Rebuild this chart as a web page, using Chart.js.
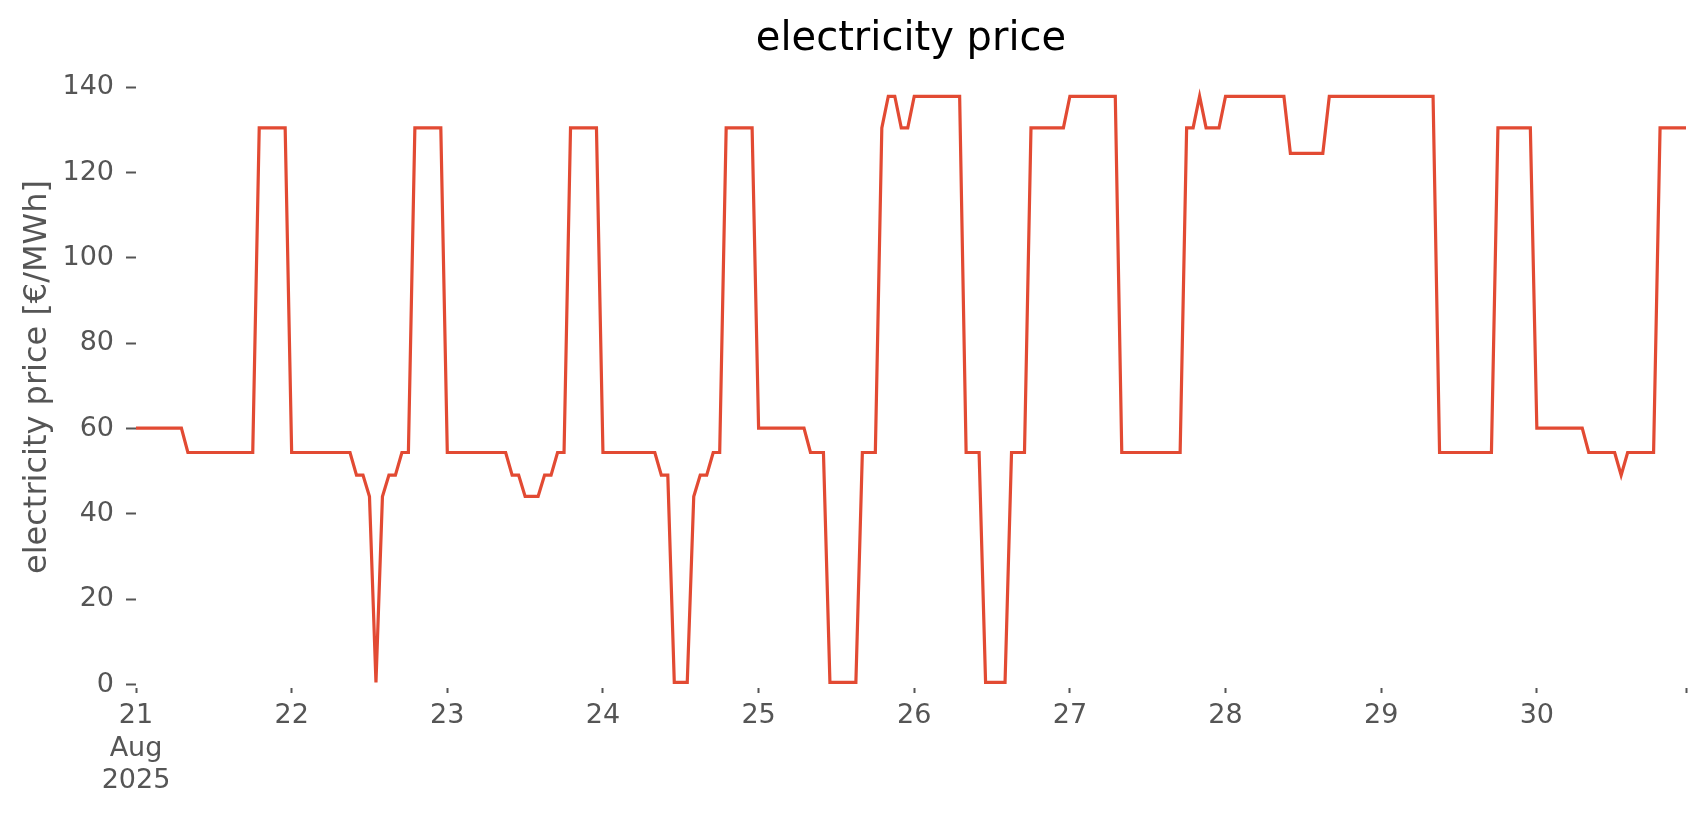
<!DOCTYPE html>
<html>

<head>
  <title>electricity price</title>
  <style>
    body {
      margin: 0;
      background-color: white;
    }
  </style>
  <script src="https://cdn.jsdelivr.net/npm/chart.js"></script>
</head>

<body>
  <canvas id="priceChart" width="1706" height="815"></canvas>

  <script>
    // hourly prices in EUR/MWh, one array per day (21-30 Aug 2025)
    const aug21 = [60.1, 60.1, 60.1, 60.1, 60.1, 60.1, 60.1, 60.1, 54.4, 54.4, 54.4, 54.4, 54.4, 54.4, 54.4, 54.4, 54.4, 54.4, 54.4, 130.5, 130.5, 130.5, 130.5, 130.5];
    const aug22 = [54.4, 54.4, 54.4, 54.4, 54.4, 54.4, 54.4, 54.4, 54.4, 54.4, 49.1, 49.1, 44.1, 0.5, 44.1, 49.1, 49.1, 54.4, 54.4, 130.5, 130.5, 130.5, 130.5, 130.5];
    const aug23 = [54.4, 54.4, 54.4, 54.4, 54.4, 54.4, 54.4, 54.4, 54.4, 54.4, 49.1, 49.1, 44.1, 44.1, 44.1, 49.1, 49.1, 54.4, 54.4, 130.5, 130.5, 130.5, 130.5, 130.5];
    const aug24 = [54.4, 54.4, 54.4, 54.4, 54.4, 54.4, 54.4, 54.4, 54.4, 49.1, 49.1, 0.5, 0.5, 0.5, 44.1, 49.1, 49.1, 54.4, 54.4, 130.5, 130.5, 130.5, 130.5, 130.5];
    const aug25 = [60.1, 60.1, 60.1, 60.1, 60.1, 60.1, 60.1, 60.1, 54.4, 54.4, 54.4, 0.5, 0.5, 0.5, 0.5, 0.5, 54.4, 54.4, 54.4, 130.5, 137.9, 137.9, 130.5, 130.5];
    const aug26 = [137.9, 137.9, 137.9, 137.9, 137.9, 137.9, 137.9, 137.9, 54.4, 54.4, 54.4, 0.5, 0.5, 0.5, 0.5, 54.4, 54.4, 54.4, 130.5, 130.5, 130.5, 130.5, 130.5, 130.5];
    const aug27 = [137.9, 137.9, 137.9, 137.9, 137.9, 137.9, 137.9, 137.9, 54.4, 54.4, 54.4, 54.4, 54.4, 54.4, 54.4, 54.4, 54.4, 54.4, 130.5, 130.5, 137.9, 130.5, 130.5, 130.5];
    const aug28 = [137.9, 137.9, 137.9, 137.9, 137.9, 137.9, 137.9, 137.9, 137.9, 137.9, 124.5, 124.5, 124.5, 124.5, 124.5, 124.5, 137.9, 137.9, 137.9, 137.9, 137.9, 137.9, 137.9, 137.9];
    const aug29 = [137.9, 137.9, 137.9, 137.9, 137.9, 137.9, 137.9, 137.9, 137.9, 54.4, 54.4, 54.4, 54.4, 54.4, 54.4, 54.4, 54.4, 54.4, 130.5, 130.5, 130.5, 130.5, 130.5, 130.5];
    const aug30 = [60.1, 60.1, 60.1, 60.1, 60.1, 60.1, 60.1, 60.1, 54.4, 54.4, 54.4, 54.4, 54.4, 49.1, 54.4, 54.4, 54.4, 54.4, 54.4, 130.5, 130.5, 130.5, 130.5, 130.5];

    // x axis in hours since 21 Aug 2025 00:00
    const dayTicks = [0, 24, 48, 72, 96, 120, 144, 168, 192, 216, 239];
    const dayLabels = [['21', 'Aug', '2025'], '22', '23', '24', '25', '26', '27', '28', '29', '30', ''];
    const yTicks = [0, 20, 40, 60, 80, 100, 120, 140];

    const hourly = [].concat(aug21, aug22, aug23, aug24, aug25, aug26, aug27, aug28, aug29, aug30);
    const points = hourly.map((v, i) => ({ x: i, y: v }));

    const tickColor = '#555555';
    const fontFamily = "'DejaVu Sans', sans-serif";

    new Chart(document.getElementById('priceChart').getContext('2d'), {
      type: 'line',
      data: {
        datasets: [{
          label: 'electricity price',
          data: points,
          borderColor: '#E24A33',
          borderWidth: 3.2,
          pointRadius: 0,
          tension: 0,
          fill: false,
        }],
      },
      options: {
        responsive: false,
        animation: false,
        layout: { padding: { left: 0, right: 20, top: 0, bottom: 0 } },
        plugins: {
          legend: { display: false },
          tooltip: { enabled: false },
          title: {
            display: true,
            text: 'electricity price',
            color: '#000000',
            fullSize: false,
            font: { family: fontFamily, size: 40, weight: 'normal' },
            padding: { top: 16, bottom: 2 },
          },
        },
        scales: {
          x: {
            type: 'linear',
            min: 0,
            max: 239,
            border: { display: false },
            grid: { drawOnChartArea: false, drawTicks: true, tickLength: 5, tickColor: tickColor, tickWidth: 2 },
            ticks: {
              color: tickColor,
              font: { family: fontFamily, size: 27 },
              padding: 7,
              autoSkip: false,
              maxRotation: 0,
              callback: (value, index) => dayLabels[index],
            },
            afterBuildTicks: axis => { axis.ticks = dayTicks.map(v => ({ value: v })); },
            afterFit: axis => { axis.height = 127; },
          },
          y: {
            min: -0.8,
            max: 145,
            border: { display: false },
            grid: { drawOnChartArea: false, drawTicks: true, tickLength: 10, tickColor: tickColor, tickWidth: 2 },
            ticks: {
              color: tickColor,
              font: { family: fontFamily, size: 27 },
              padding: 12,
            },
            afterBuildTicks: axis => { axis.ticks = yTicks.map(v => ({ value: v })); },
            afterFit: axis => { axis.width = 136; },
            title: {
              display: true,
              text: 'electricity price [€/MWh]',
              color: tickColor,
              font: { family: fontFamily, size: 32 },
              padding: { top: 18, bottom: 0 },
            },
          },
        },
      },
    });
  </script>
</body>

</html>
